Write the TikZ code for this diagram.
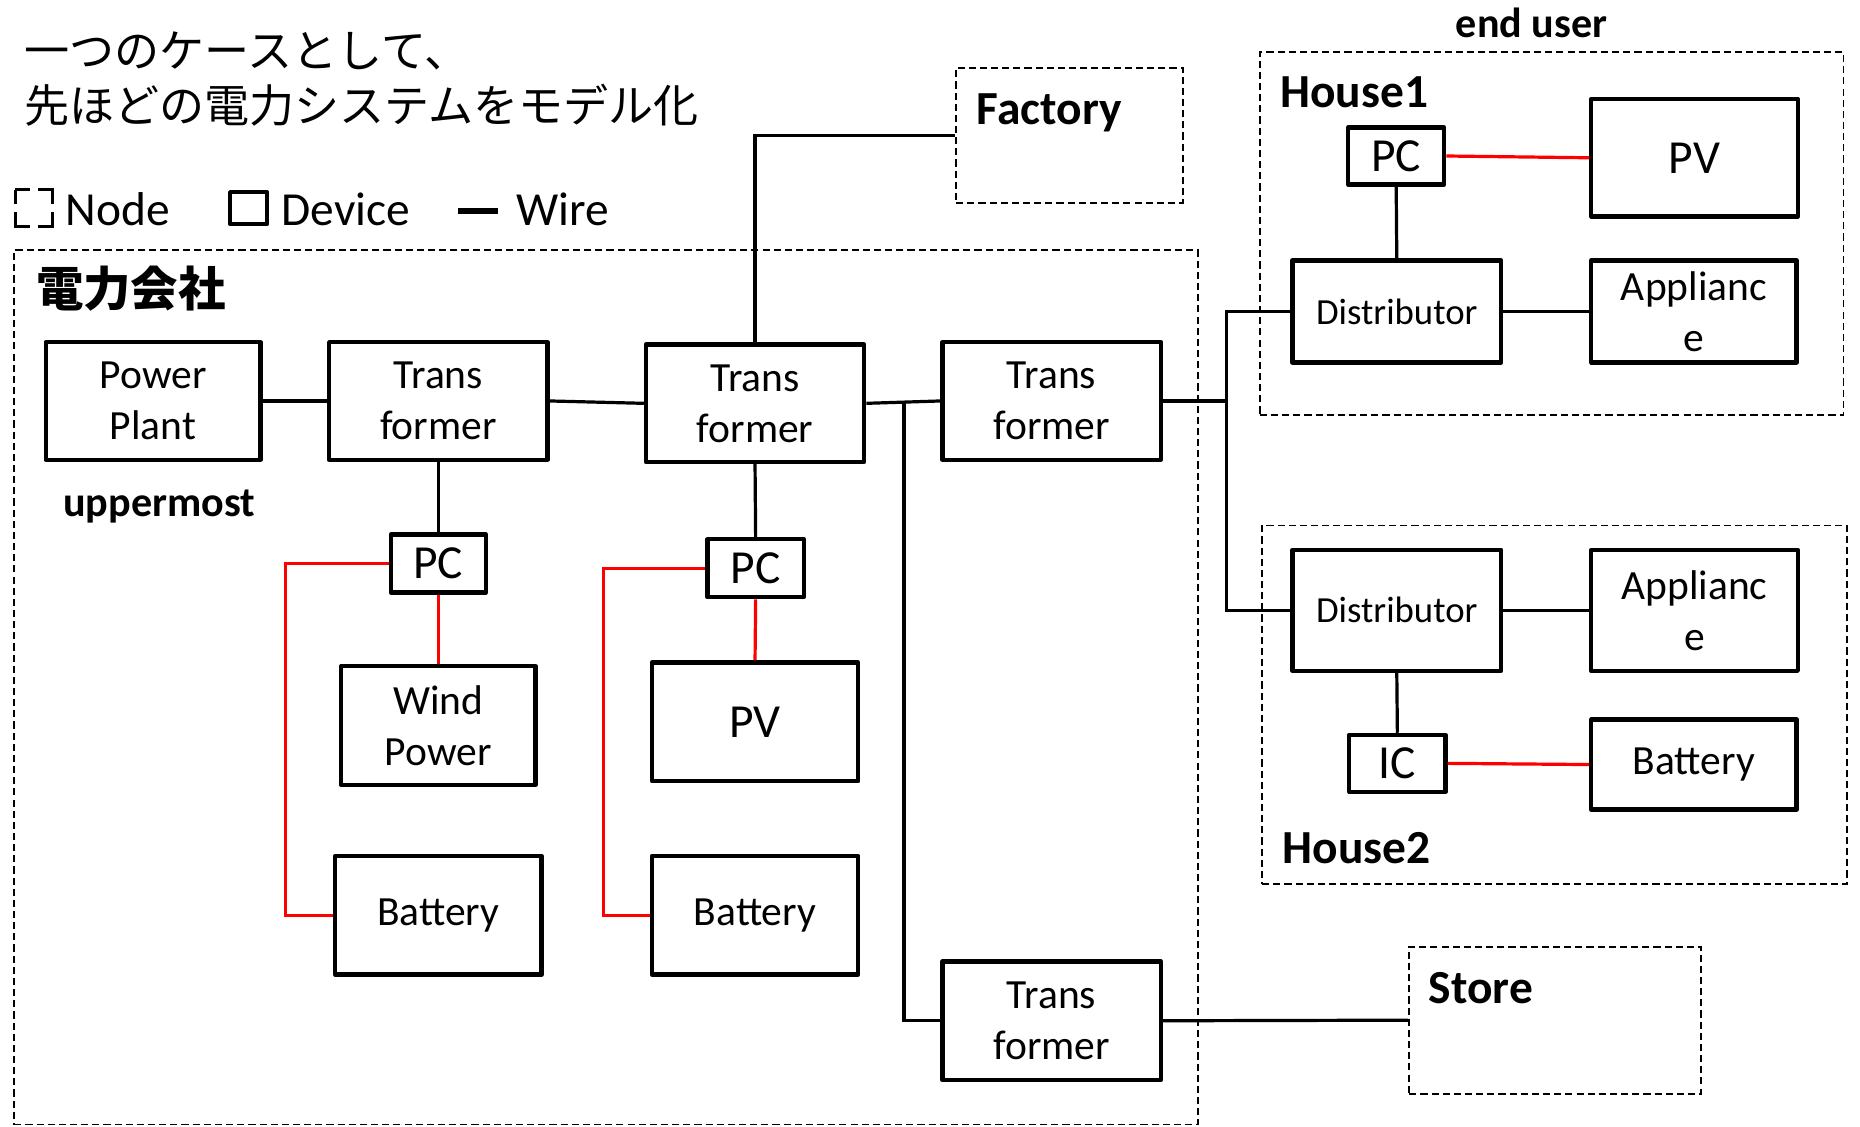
\documentclass[tikz,border=0pt]{standalone}
\usepackage{fontspec}
\setmainfont{Carlito}
\newfontfamily\jp{Noto Sans CJK JP}
\definecolor{wirered}{RGB}{255,0,0}
\tikzset{
  dev/.style={draw, line width=1.8pt, inner sep=0pt, align=center, line join=round, font=\fontsize{17.5}{21.5}\selectfont},
  big/.style={font=\fontsize{20}{24}\selectfont},
  dist/.style={font=\fontsize{15.5}{19}\selectfont},
  grp/.style={draw, line width=0.75pt, dash pattern=on 3pt off 1.7pt, inner sep=0pt},
  wire/.style={line width=1.35pt},
  rwire/.style={line width=1.35pt, draw=wirered},
  lbl/.style={inner sep=0pt, anchor=base west, font=\fontsize{20}{24}\selectfont\bfseries},
  lbls/.style={inner sep=0pt, anchor=base west, font=\fontsize{17.75}{21}\selectfont\bfseries},
  legtext/.style={inner sep=0pt, anchor=base west, font=\fontsize{20}{24}\selectfont},
  jptitle/.style={inner sep=0pt, anchor=west, font=\fontsize{19}{23}\jp},
}
\begin{document}
\begin{tikzpicture}[x=0.5pt,y=-0.5pt]
\useasboundingbox (0,0) rectangle (1568,950);
% title
\node[jptitle] (title1) at (20,43) {一つのケースとして、};
\node[jptitle] (title2) at (20,89) {先ほどの電力システムをモデル化};
% legend
\draw[line width=1.4pt, dash pattern=on 12pt off 3.5pt, dash phase=6pt] (13,160) rectangle (44,191);
\node[legtext] (legnode) at (55,190) {Node};
\draw[line width=1.8pt, line join=round] (194,162) rectangle (225,189);
\node[legtext] (legdev) at (237,190) {Device};
\draw[line width=2.5pt] (386,178) -- (420,178);
\node[legtext] (legwire) at (435,190) {Wire};
% group boxes
\node[grp, minimum width=499pt, minimum height=368.5pt] (company) at (511,579.5) {};
\node[grp, minimum width=95.5pt, minimum height=57pt] (factory) at (901.5,114) {};
\node[grp, minimum width=246pt, minimum height=153pt] (house1) at (1308,197) {};
\node[grp, minimum width=246.5pt, minimum height=151pt] (house2) at (1310.5,594) {};
\node[grp, minimum width=123pt, minimum height=62pt] (store) at (1311,860) {};
% group labels
\node[inner sep=0pt, anchor=west, font=\fontsize{20}{24}\jp\bfseries] (colbl) at (30,243) {電力会社};
\node[lbls] (upper) at (53,435) {uppermost};
\node[lbl] (factlbl) at (823,105) {Factory};
\node[lbls] (enduser) at (1227,32) {end user};
\node[lbl] (h1lbl) at (1079,91) {House1};
\node[lbl] (h2lbl) at (1081,728) {House2};
\node[lbl] (storelbl) at (1204,846) {Store};
% devices
\node[dev, minimum width=90.5pt, minimum height=49.5pt] (pp) at (129,338) {Power\\Plant};
\node[dev, minimum width=92pt, minimum height=49.5pt] (t1) at (369.5,338) {Trans\\former};
\node[dev, minimum width=92pt, minimum height=49.5pt] (t2) at (636.5,340) {Trans\\former};
\node[dev, minimum width=92pt, minimum height=49.5pt] (t3) at (886.5,338) {Trans\\former};
\node[dev, minimum width=92pt, minimum height=50pt] (t4) at (886.5,860.5) {Trans\\former};
\node[dev, big, minimum width=40pt, minimum height=24.5pt] (pc1) at (369.5,475) {PC};
\node[dev, minimum width=82pt, minimum height=50pt] (wp) at (369.5,611.5) {Wind\\Power};
\node[dev, minimum width=87pt, minimum height=50pt] (bat1) at (369.5,771.5) {Battery};
\node[dev, big, minimum width=40.5pt, minimum height=24.5pt] (pc2) at (637,479) {PC};
\node[dev, big, minimum width=87pt, minimum height=50pt] (pvm) at (636.5,608.5) {PV};
\node[dev, minimum width=87pt, minimum height=50pt] (bat2) at (636.5,771.5) {Battery};
\node[dev, big, minimum width=40.5pt, minimum height=24pt] (pch) at (1177,131.5) {PC};
\node[dev, big, minimum width=87pt, minimum height=49.5pt] (pvh) at (1428.5,133) {PV};
\node[dev, dist, minimum width=88pt, minimum height=43pt] (d1) at (1177.5,262.5) {Distributor};
\node[dev, minimum width=86.5pt, minimum height=43pt] (a1) at (1428,262.5) {Applianc\\e};
\node[dev, dist, minimum width=88pt, minimum height=51pt] (d2) at (1177.5,514.5) {Distributor};
\node[dev, minimum width=87pt, minimum height=51pt] (a2) at (1428.5,514.5) {Applianc\\e};
\node[dev, big, minimum width=40.5pt, minimum height=24pt] (ic) at (1178,643.5) {IC};
\node[dev, minimum width=86.5pt, minimum height=38pt] (bat3) at (1428,644.5) {Battery};
% junctions
\coordinate (j1) at (762,339);
\coordinate (j2) at (1034,338);
\coordinate (r1) at (241,771.5);
\coordinate (r2) at (509,771.5);
% black wires
\draw[wire] (pp.east) -- (t1.west);
\draw[wire] (t1.east) -- (t2.west);
\draw[wire] (t2.east) -- (t3.west);
\draw[wire] (j1) |- (t4.west);
\draw[wire] (t2.north) |- (factory.west);
\draw[wire] (t1.south) -- (pc1.north);
\draw[wire] (t2.south) -- (pc2.north);
\draw[wire] (t3.east) -- (j2);
\draw[wire] (d1.west) -| (j2);
\draw[wire] (d2.west) -| (j2);
\draw[wire] (pch.south) -- (d1.north);
\draw[wire] (d1.east) -- (a1.west);
\draw[wire] (d2.east) -- (a2.west);
\draw[wire] (d2.south) -- (ic.north);
\draw[wire] (t4.east) -- (store.west);
% red wires
\draw[rwire] (pc1.south) -- (wp.north);
\draw[rwire] (pc1.west) -| (r1) -- (bat1.west);
\draw[rwire] (pc2.south) -- (pvm.north);
\draw[rwire] (pc2.west) -| (r2) -- (bat2.west);
\draw[rwire] (pch.east) -- (pvh.west);
\draw[rwire] (ic.east) -- (bat3.west);
\end{tikzpicture}
\end{document}
